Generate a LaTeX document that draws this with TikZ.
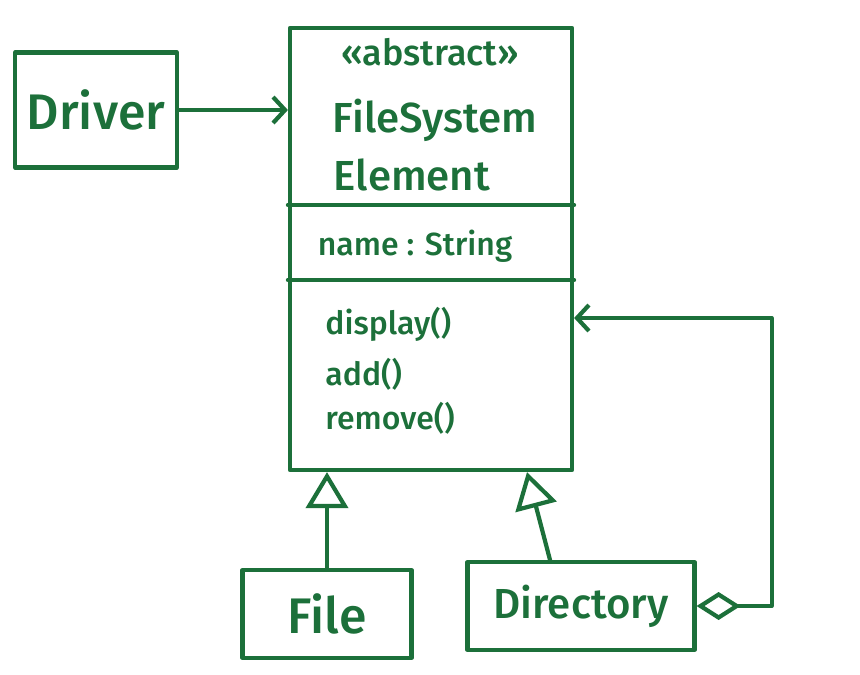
\documentclass[tikz,border=0pt]{standalone}
\usepackage{fontspec}
\setmainfont{Fira Sans}[UprightFont={* Medium}]
\usetikzlibrary{arrows.meta}
\definecolor{pen}{RGB}{28,112,58}
\begin{document}
\begin{tikzpicture}[x=1pt,y=-1pt,draw=pen,text=pen,line width=4.2pt,line join=round,line cap=round]
	\tikzstyle{cls}=[draw=pen,rectangle,inner sep=0pt]
	\tikzstyle{big}=[font=\fontsize{50}{54}\selectfont]
	\tikzstyle{mid}=[font=\fontsize{42}{46}\selectfont]
	\tikzstyle{small}=[font=\fontsize{32}{36}\selectfont]
	\tikzstyle{assoc}=[-{Straight Barb[length=12pt,width=26pt,line width=4.2pt]}]
	\tikzstyle{inherit}=[-{Triangle[open,fill=white,length=36pt,width=42pt,line width=4.2pt]}]
	\tikzstyle{aggr}=[{Diamond[open,fill=white,length=44pt,width=28pt,line width=4.2pt]}-{Straight Barb[length=12pt,width=26pt,line width=4.2pt]}]
	\useasboundingbox (0,0) rectangle (860,675);

	% boxes
	\node[cls,minimum width=162pt,minimum height=115pt] (driver) at (96,110) {};
	\node[cls,minimum width=282pt,minimum height=442pt] (fse) at (431,249) {};
	\node[cls,minimum width=169pt,minimum height=88pt] (file) at (327,614) {};
	\node[cls,minimum width=227pt,minimum height=88pt] (dir) at (581,606) {};

	% compartments
	\draw (fse.west |- 0,205) -- (fse.east |- 0,205);
	\draw (fse.west |- 0,280) -- (fse.east |- 0,280);

	% texts
	\node[big] (driver-t) at (driver) {Driver};
	\node[small,font=\fontsize{36}{40}\selectfont] (stereo) at (430,52) {«abstract»};
	\node[mid] (name-a) at (435,120) {FileSystem};
	\node[mid] (name-b) at (412,175) {Element};
	\node[small] (attr) at (415,246) {name : String};
	\node[small,anchor=west] (op1) at (320,324) {display()};
	\node[small,anchor=west] (op2) at (320,374) {add()};
	\node[small,anchor=west] (op3) at (320,418) {remove()};
	\node[big] (file-t) at (file) {File};
	\node[mid] (dir-t) at (dir) {Directory};

	% connectors
	\draw[assoc] (driver.east) -- (driver.east -| fse.west);
	\draw[inherit] (file.north) -- (file.north |- fse.south);
	\draw[inherit] ([xshift=-31pt]dir.north) -- ([xshift=-54pt]dir.north |- fse.south);
	\draw[aggr] (dir.east) -- ++(75,0) |- (fse.east |- 0,318);
\end{tikzpicture}
\end{document}
